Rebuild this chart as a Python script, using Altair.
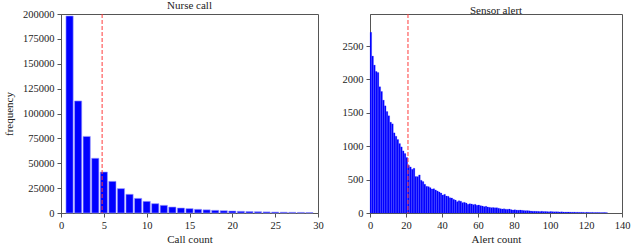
import altair as alt
import pandas as pd

# Nurse call histogram (call count -> frequency)
nurse_calls = list(range(1, 30))
nurse_freq = [198000, 112600, 77000, 55000, 41200, 31800, 24500, 18800, 14700, 11700,
              9400, 7700, 6000, 5000, 4400, 3700, 3200, 2700, 2300, 2000,
              1700, 1500, 1300, 1100, 950, 800, 700, 600, 500]
nurse_mean = [4.8]

# Sensor alert histogram (alert count -> frequency)
alert_counts = list(range(1, 133))
alert_freq = [2705, 2350, 2215, 2120, 2105, 1890, 1820, 1690, 1605, 1520,
              1455, 1360, 1335, 1200, 1150, 1100, 1040, 990, 930, 890,
              830, 715, 690, 655, 670, 545, 545, 570, 490, 470,
              430, 400, 395, 380, 360, 365, 345, 330, 315, 300,
              270, 280, 255, 250, 230, 225, 205, 195, 170, 185,
              175, 155, 160, 150, 130, 140, 135, 125, 130, 115,
              120, 110, 105, 95, 100, 90, 85, 80, 82, 78,
              80, 72, 65, 60, 62, 58, 55, 60, 50, 45,
              48, 44, 42, 45, 40, 38, 35, 36, 33, 30,
              28, 27, 26, 25, 24, 26, 22, 23, 21, 20,
              22, 20, 18, 19, 17, 16, 18, 15, 14, 15,
              14, 13, 12, 13, 11, 12, 10, 11, 10, 9,
              10, 9, 8, 9, 8, 7, 8, 7, 6, 7, 6, 5]
alert_mean = [21.1]

nurse_ticks_x = [0, 5, 10, 15, 20, 25, 30]
nurse_ticks_y = [0, 25000, 50000, 75000, 100000, 125000, 150000, 175000, 200000]
alert_ticks_x = [0, 20, 40, 60, 80, 100, 120, 140]
alert_ticks_y = [0, 500, 1000, 1500, 2000, 2500]

FONT = "Liberation Serif"
BLUE = "#0000ff"
RED = "#ff3b3b"

nurse_df = pd.DataFrame({"call": nurse_calls, "freq": nurse_freq})
alert_df = pd.DataFrame({"alert": alert_counts, "freq": alert_freq})


def axis(values, title, title_pad=3):
    return alt.Axis(values=values, format="d", grid=False, tickSize=4, labelPadding=3,
                    labelFont=FONT, labelFontSize=10.5, labelColor="#222",
                    labelOverlap=False, labelFlush=False,
                    domainColor="#555", tickColor="#555", titleFont=FONT,
                    titleFontSize=11, titleFontWeight="normal", titleColor="#222",
                    titlePadding=title_pad, title=title)


def panel(df, lo_expr, hi_expr, xdom, ydom, xt, yt, xtitle, ytitle,
          mean, w, title, stroke, stroke_w):
    xs = alt.Scale(domain=xdom, nice=False)
    ys = alt.Scale(domain=ydom, nice=False)
    bars = alt.Chart(df).transform_calculate(
        lo=lo_expr, hi=hi_expr
    ).mark_bar(color=BLUE, stroke=stroke, strokeWidth=stroke_w).encode(
        x=alt.X("lo:Q", scale=xs, axis=axis(xt, xtitle)),
        x2="hi:Q",
        y=alt.Y("freq:Q", scale=ys, axis=axis(yt, ytitle, 8)),
        y2=alt.datum(0),
    )
    rule = alt.Chart(pd.DataFrame({"m": mean})).mark_rule(
        color=RED, strokeDash=[4, 2], strokeWidth=1
    ).encode(x=alt.X("m:Q", scale=xs, axis=axis(xt, xtitle)))
    return alt.layer(bars, rule).properties(
        width=w, height=199,
        title=alt.TitleParams(title, font=FONT, fontSize=11, fontWeight="normal",
                              color="#222", offset=-2),
    )


left = panel(nurse_df, "datum.call - 0.42", "datum.call + 0.42",
             [0, 30], [0, 200000], nurse_ticks_x, nurse_ticks_y,
             "Call count", "frequency", nurse_mean, 257, "Nurse call",
             "#9a9aff", 0.6)
right = panel(alert_df, "datum.alert - 1", "datum.alert - 0.08",
              [0, 140], [0, 2980], alert_ticks_x, alert_ticks_y,
              "Alert count", None, alert_mean, 252, "Sensor alert",
              "#2a2aff", 0.2)

chart = alt.hconcat(left, right, spacing=17).properties(
    padding={"left": 3, "top": -1, "right": 1, "bottom": 3},
    background="white",
).configure_view(stroke="#555", strokeWidth=1)

chart.save("out.html", embed_options={"renderer": "svg", "actions": False})
